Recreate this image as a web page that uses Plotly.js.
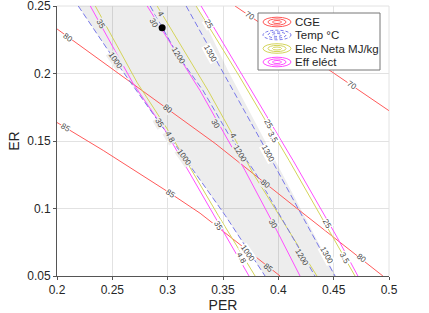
<!DOCTYPE html>
<html><head><meta charset="utf-8">
<script src="https://cdn.plot.ly/plotly-3.0.1.min.js"></script>
<style>html,body{margin:0;padding:0;background:#fff;}#chart{width:429px;height:313px;}</style>
</head><body><div id="chart"></div>
<script>
// ---- data (PER, ER) ----
// CGE contours
const cge70PER = [0.3609, 0.4467, 0.4999];
const cge70ER  = [0.2500, 0.2022, 0.1725];
const cge80PER = [0.2000, 0.2689, 0.3429, 0.4223, 0.4945];
const cge80ER  = [0.2330, 0.1924, 0.1482, 0.0965, 0.0500];
const cge85PER = [0.2000, 0.2418, 0.3023, 0.3293, 0.4016];
const cge85ER  = [0.1637, 0.1430, 0.1113, 0.0965, 0.0500];
// Temp °C contours
const t1000PER = [0.2192, 0.2526, 0.3149, 0.3519, 0.3880];
const t1000ER  = [0.2500, 0.2094, 0.1378, 0.0950, 0.0500];
const t1200PER = [0.2842, 0.3095, 0.3320, 0.3546, 0.3790, 0.4331];
const t1200ER  = [0.2500, 0.2131, 0.1873, 0.1555, 0.1268, 0.0500];
const t1300PER = [0.3167, 0.3519, 0.3907, 0.4512];
const t1300ER  = [0.2500, 0.1983, 0.1408, 0.0500];
// Elec Neta MJ/kg contours
const e35PER = [0.2346, 0.2725, 0.3005, 0.3456, 0.3790];
const e35ER  = [0.2500, 0.1932, 0.1578, 0.0950, 0.0500];
const e30PER = [0.2905, 0.3366, 0.3591, 0.3772, 0.4349];
const e30ER  = [0.2500, 0.1873, 0.1541, 0.1260, 0.0500];
const e25PER = [0.3257, 0.3645, 0.4097, 0.4494, 0.4693];
const e25ER  = [0.2500, 0.1983, 0.1356, 0.0788, 0.0500];
// Eff eléct contours
const f48PER = [0.2301, 0.2689, 0.2977, 0.3338, 0.3735];
const f48ER  = [0.2500, 0.1924, 0.1578, 0.1061, 0.0500];
const f4PER  = [0.2815, 0.3293, 0.3699, 0.3952, 0.4196];
const f4ER   = [0.2500, 0.1873, 0.1282, 0.0891, 0.0500];
const f35PER = [0.3302, 0.3681, 0.4133, 0.4530, 0.4719];
const f35ER  = [0.2500, 0.1983, 0.1356, 0.0788, 0.0500];
// shaded feasible band (left edge = 1000 °C line)
const bandRightPER = [0.3265, 0.3546, 0.3925, 0.4521];
const bandRightER  = [0.2500, 0.2020, 0.1430, 0.0500];
// operating point
const pointPER = [0.2950];
const pointER  = [0.2338];
// contour labels
const labelText = ['35','35','35','4.8','4.8','1000','1000','1000','30','30','30','4','4','1200','1200','1200',
  '1300','1300','1300','25','25','25','3.5','3.5','80','80','80','80','85','85','85','70','70'];
const labelPER = [0.2391,0.2923,0.3456,0.3023,0.3672,0.2526,0.3149,0.3726,0.2869,0.3429,0.3952,0.2932,0.3591,0.3095,0.3654,0.4214,
  0.3384,0.3907,0.4440,0.3366,0.3907,0.4440,0.3952,0.4602,0.2093,0.2995,0.3880,0.4755,0.2075,0.3023,0.3907,0.3736,0.4665];
const labelER = [0.2367,0.1637,0.0876,0.1526,0.0633,0.2094,0.1378,0.0670,0.2375,0.1629,0.0891,0.2441,0.1541,0.2131,0.1408,0.0640,
  0.2146,0.1408,0.0655,0.2367,0.1629,0.0891,0.1526,0.0633,0.2264,0.1740,0.1186,0.0633,0.1600,0.1113,0.0566,0.2426,0.1910];
const labelAngle = [60,60,60,60,60,55,55,55,60,60,60,60,60,59,59,59,
  61,61,61,60,60,60,60,60,36,37,38,38,31,33,38,34,34];
const labelInBand = [1,1,0,1,0,1,1,0,1,1,1,1,1,1,1,1, 0,0,0,0,0,0,0,0, 0,1,1,0,0,0,1,0,0];

const xTicks = [0.2,0.25,0.3,0.35,0.4,0.45,0.5];
const xTickText = ['0.2','0.25','0.3','0.35','0.4','0.45','0.5'];
const yTicks = [0.05,0.1,0.15,0.2,0.25];
const yTickText = ['0.05','0.1','0.15','0.2','0.25'];
const legendNames = ['CGE','Temp °C','Elec Neta MJ/kg','Eff eléct'];

// ---- styles ----
const RED='#ff5a5a', BLUE='#7878ea', YEL='#d4d45a', MAG='#ff4dff';
const FONT='Liberation Sans, Arial, Helvetica, sans-serif';
const BAND='rgba(0,0,0,0.07)';
const GRID='#e2e2e2';

function line(x,y,color,dash){
  return {type:'scatter',mode:'lines',x:x,y:y,line:{color:color,width:1,dash:dash||'solid'},hoverinfo:'skip',showlegend:false};
}
const bandX = t1000PER.concat(bandRightPER.slice().reverse());
const bandY = t1000ER.concat(bandRightER.slice().reverse());

const traces = [
  {type:'scatter',mode:'lines',x:bandX,y:bandY,fill:'toself',fillcolor:BAND,line:{width:0,color:'rgba(0,0,0,0)'},hoverinfo:'skip',showlegend:false},
  line(cge70PER,cge70ER,RED), line(cge80PER,cge80ER,RED), line(cge85PER,cge85ER,RED),
  line(e35PER,e35ER,YEL), line(e30PER,e30ER,YEL), line(e25PER,e25ER,YEL),
  line(f48PER,f48ER,MAG), line(f4PER,f4ER,MAG), line(f35PER,f35ER,MAG),
  line(t1000PER,t1000ER,BLUE,'6px,3px'), line(t1200PER,t1200ER,BLUE,'6px,3px'), line(t1300PER,t1300ER,BLUE,'6px,3px'),
  {type:'scatter',mode:'markers',x:pointPER,y:pointER,marker:{color:'#000',size:7},hoverinfo:'skip',showlegend:false}
];

// plot-area pixel helpers for decorations (legend box)
const L=57, T=6, W=332, H=270;
function px2x(px){return 0.2+(px-L)/W*0.3;}
function py2y(py){return 0.25-(py-T)/H*0.2;}

const annotations = labelText.map((t,i)=>({
  x:labelPER[i], y:labelER[i], xref:'x', yref:'y', text:t, showarrow:false,
  textangle:labelAngle[i], font:{family:FONT,size:8,color:'#444'},
  bgcolor: labelInBand[i] ? '#eeeeee' : '#ffffff', borderpad:0
}));
const shapes = [
  // grid lines at the upper and right limits of the axes box
  {type:'line',xref:'paper',yref:'paper',x0:0,x1:1,y0:1,y1:1,line:{color:GRID,width:1},layer:'below'},
  {type:'line',xref:'paper',yref:'paper',x0:1,x1:1,y0:0,y1:1,line:{color:GRID,width:1},layer:'below'},
  {type:'rect',xref:'x',yref:'y',x0:px2x(258),x1:px2x(380),y0:py2y(13),y1:py2y(70),
  fillcolor:'#fff',line:{color:'#777',width:1},layer:'above'}];
const legColors=[RED,BLUE,YEL,MAG];
const rowY=[22,35,48.5,62];
legendNames.forEach((n,i)=>{
  const cx=277, cy=rowY[i];
  [[14,4.8],[9,3.1],[4.5,1.5]].forEach(r=>{
    shapes.push({type:'circle',xref:'x',yref:'y',x0:px2x(cx-r[0]),x1:px2x(cx+r[0]),y0:py2y(cy+r[1]),y1:py2y(cy-r[1]),
      line:{color:legColors[i],width:1,dash:i===1?'3px,2px':'solid'},layer:'above'});
  });
  annotations.push({x:px2x(293),y:py2y(cy),xref:'x',yref:'y',xanchor:'left',yanchor:'middle',text:n,showarrow:false,
    font:{family:FONT,size:11.5,color:'#262626'}});
});

const axisCommon = {ticks:'outside',ticklen:3,tickcolor:'#555',showline:true,linecolor:'#555',linewidth:1,
  showgrid:true,gridcolor:GRID,gridwidth:1,zeroline:false,tickfont:{family:FONT,size:12,color:'#262626'},
  automargin:false,ticklabeloverflow:'allow'};
const layout = {
  width:429,height:313,margin:{l:L,r:429-L-W,t:T,b:313-T-H,pad:0},
  paper_bgcolor:'#fff',plot_bgcolor:'#fff',showlegend:false,
  xaxis:Object.assign({},axisCommon,{range:[0.2,0.5],tickmode:'array',tickvals:xTicks,ticktext:xTickText,
    title:{text:'PER',font:{family:FONT,size:14,color:'#262626'},standoff:2}}),
  yaxis:Object.assign({},axisCommon,{range:[0.05,0.25],tickmode:'array',tickvals:yTicks,ticktext:yTickText,
    title:{text:'ER',font:{family:FONT,size:14,color:'#262626'},standoff:4}}),
  annotations:annotations, shapes:shapes
};
Plotly.newPlot('chart',traces,layout,{staticPlot:true,displayModeBar:false});
</script></body></html>
